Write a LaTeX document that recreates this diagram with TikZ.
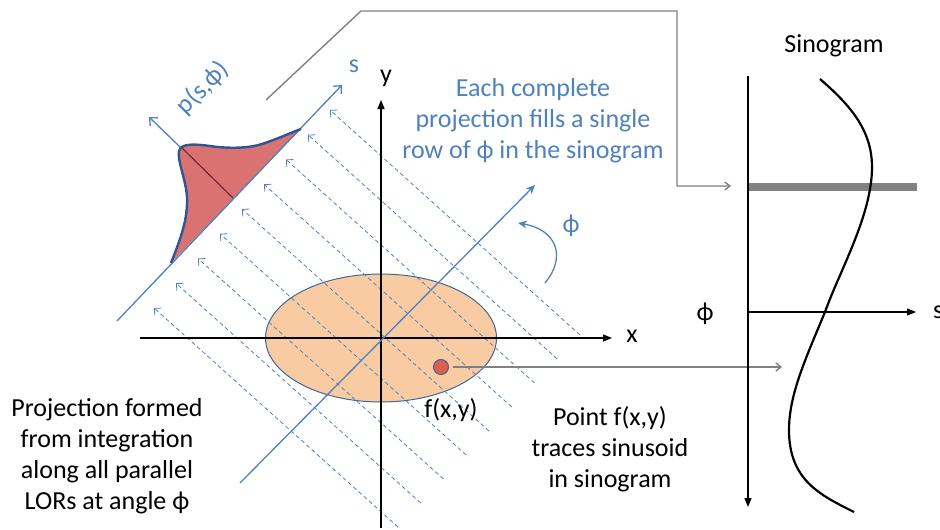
\documentclass[tikz,border=0pt]{standalone}
\usepackage{fontspec}
\setmainfont{Carlito}
\usetikzlibrary{arrows.meta}
\definecolor{axisblue}{RGB}{79,129,189}
\definecolor{projred}{RGB}{218,114,114}
\definecolor{curveblue}{RGB}{47,85,151}
\definecolor{objorange}{RGB}{248,203,162}
\definecolor{objedge}{RGB}{65,105,150}
\definecolor{dotred}{RGB}{222,95,78}
\definecolor{linkgray}{RGB}{128,128,128}
\definecolor{darkred}{RGB}{120,40,60}

\begin{document}
\begin{tikzpicture}[x=1pt,y=-1pt,
  lbl/.style={font=\fontsize{26}{31}\selectfont, align=center, inner sep=1pt},
  bluelbl/.style={lbl, text=axisblue},
  axis/.style={line width=1.4pt, -{Triangle[length=9pt,width=7pt]}},
  baxis/.style={axisblue, line width=1.3pt, -{Straight Barb[length=6pt,width=11pt]}},
  lor/.style={axisblue, line width=0.8pt, dash pattern=on 4pt off 3pt, -{Straight Barb[length=5pt,width=10pt]}},
  link/.style={linkgray, line width=1.4pt, -{Straight Barb[length=5pt,width=8pt]}}]
\useasboundingbox (0,0) rectangle (940,530);

\draw[objedge, fill=objorange, line width=1pt] (381,338) ellipse [x radius=115.5pt, y radius=64pt];

\foreach \i in {0,...,8}
  \draw[lor] ({580-22.75*\i},{335+24*\i}) -- ({330-22*\i},{110+24.75*\i});

\draw[axis] (381,528) -- (381,100);
\draw[axis] (140,338) -- (612,338);
\node[lbl] (xl) at (632,336) {x};
\node[lbl] (yl) at (386,78) {y};

\draw[axisblue, line width=1.3pt, -{Stealth[length=9pt,width=8pt]}] (240,483) -- (535,185);
\draw[axisblue, line width=1.3pt, -{Stealth[length=9pt,width=8pt]}] (545,283) .. controls (566,258) and (558,230) .. (518,223);
\node[bluelbl] (phil) at (571,226) {ϕ};

\draw[baxis] (233,198) -- (149,117);
\fill[projred] (171,263) .. controls (180,240) and (188,220) .. (187,197)
  .. controls (186,180) and (177,160) .. (179,151)
  .. controls (181,143) and (195,144) .. (210,146)
  .. controls (230,149) and (250,148) .. (262,144)
  .. controls (280,138) and (290,133) .. (301,129) -- cycle;
\draw[darkred, line width=1.2pt] (233,198) -- (181,147);
\draw[baxis] (117,321) -- (342,85);
\draw[curveblue, line width=2.4pt] (171,263) .. controls (180,240) and (188,220) .. (187,197)
  .. controls (186,180) and (177,160) .. (179,151)
  .. controls (181,143) and (195,144) .. (210,146)
  .. controls (230,149) and (250,148) .. (262,144)
  .. controls (280,138) and (290,133) .. (301,129);
\node[bluelbl, rotate=45] (pl) at (203,88) {p(s,ϕ)};
\node[bluelbl] (sl) at (354,66) {s};

\node[circle, draw=objedge, fill=dotred, line width=1pt, minimum size=15pt, inner sep=0pt] (pt) at (441,367) {};
\node[lbl] (fl) at (451,410) {f(x,y)};

\coordinate (rowstart) at (266,100);
\coordinate (rowend) at (731,186);
\draw[link] (rowstart) -- (361,11) -- (677,11) |- (rowend);
\coordinate (ptend) at (782,367);
\draw[link] ([xshift=4pt]pt.east) -- (ptend);

\draw[linkgray, line width=8pt] (748,187) -- (917,187);
\draw[line width=1.4pt, -{Triangle[length=9pt,width=7pt]}] (748,76) -- (748,507);
\draw[line width=1.4pt, -{Triangle[length=9pt,width=7pt]}] (748,312) -- (916,312);
\draw[line width=2.2pt] (820,79) .. controls (850,105) and (872,130) .. (872,167)
  .. controls (872,215) and (840,270) .. (825,312)
  .. controls (805,360) and (789,395) .. (789,430)
  .. controls (789,480) and (820,495) .. (854,512);
\node[lbl] (sino) at (834,46) {Sinogram};
\node[lbl] (phis) at (705,314) {ϕ};
\node[lbl, anchor=west] (ss) at (932,312) {s};

\node[bluelbl] (fill) at (533,121) {Each complete\\projection fills a single\\row of ϕ in the sinogram};
\node[lbl] (proj) at (107,456) {Projection formed\\from integration\\along all parallel\\LORs at angle ϕ};
\node[lbl] (trace) at (610,449) {Point f(x,y)\\traces sinusoid\\in sinogram};
\end{tikzpicture}
\end{document}
